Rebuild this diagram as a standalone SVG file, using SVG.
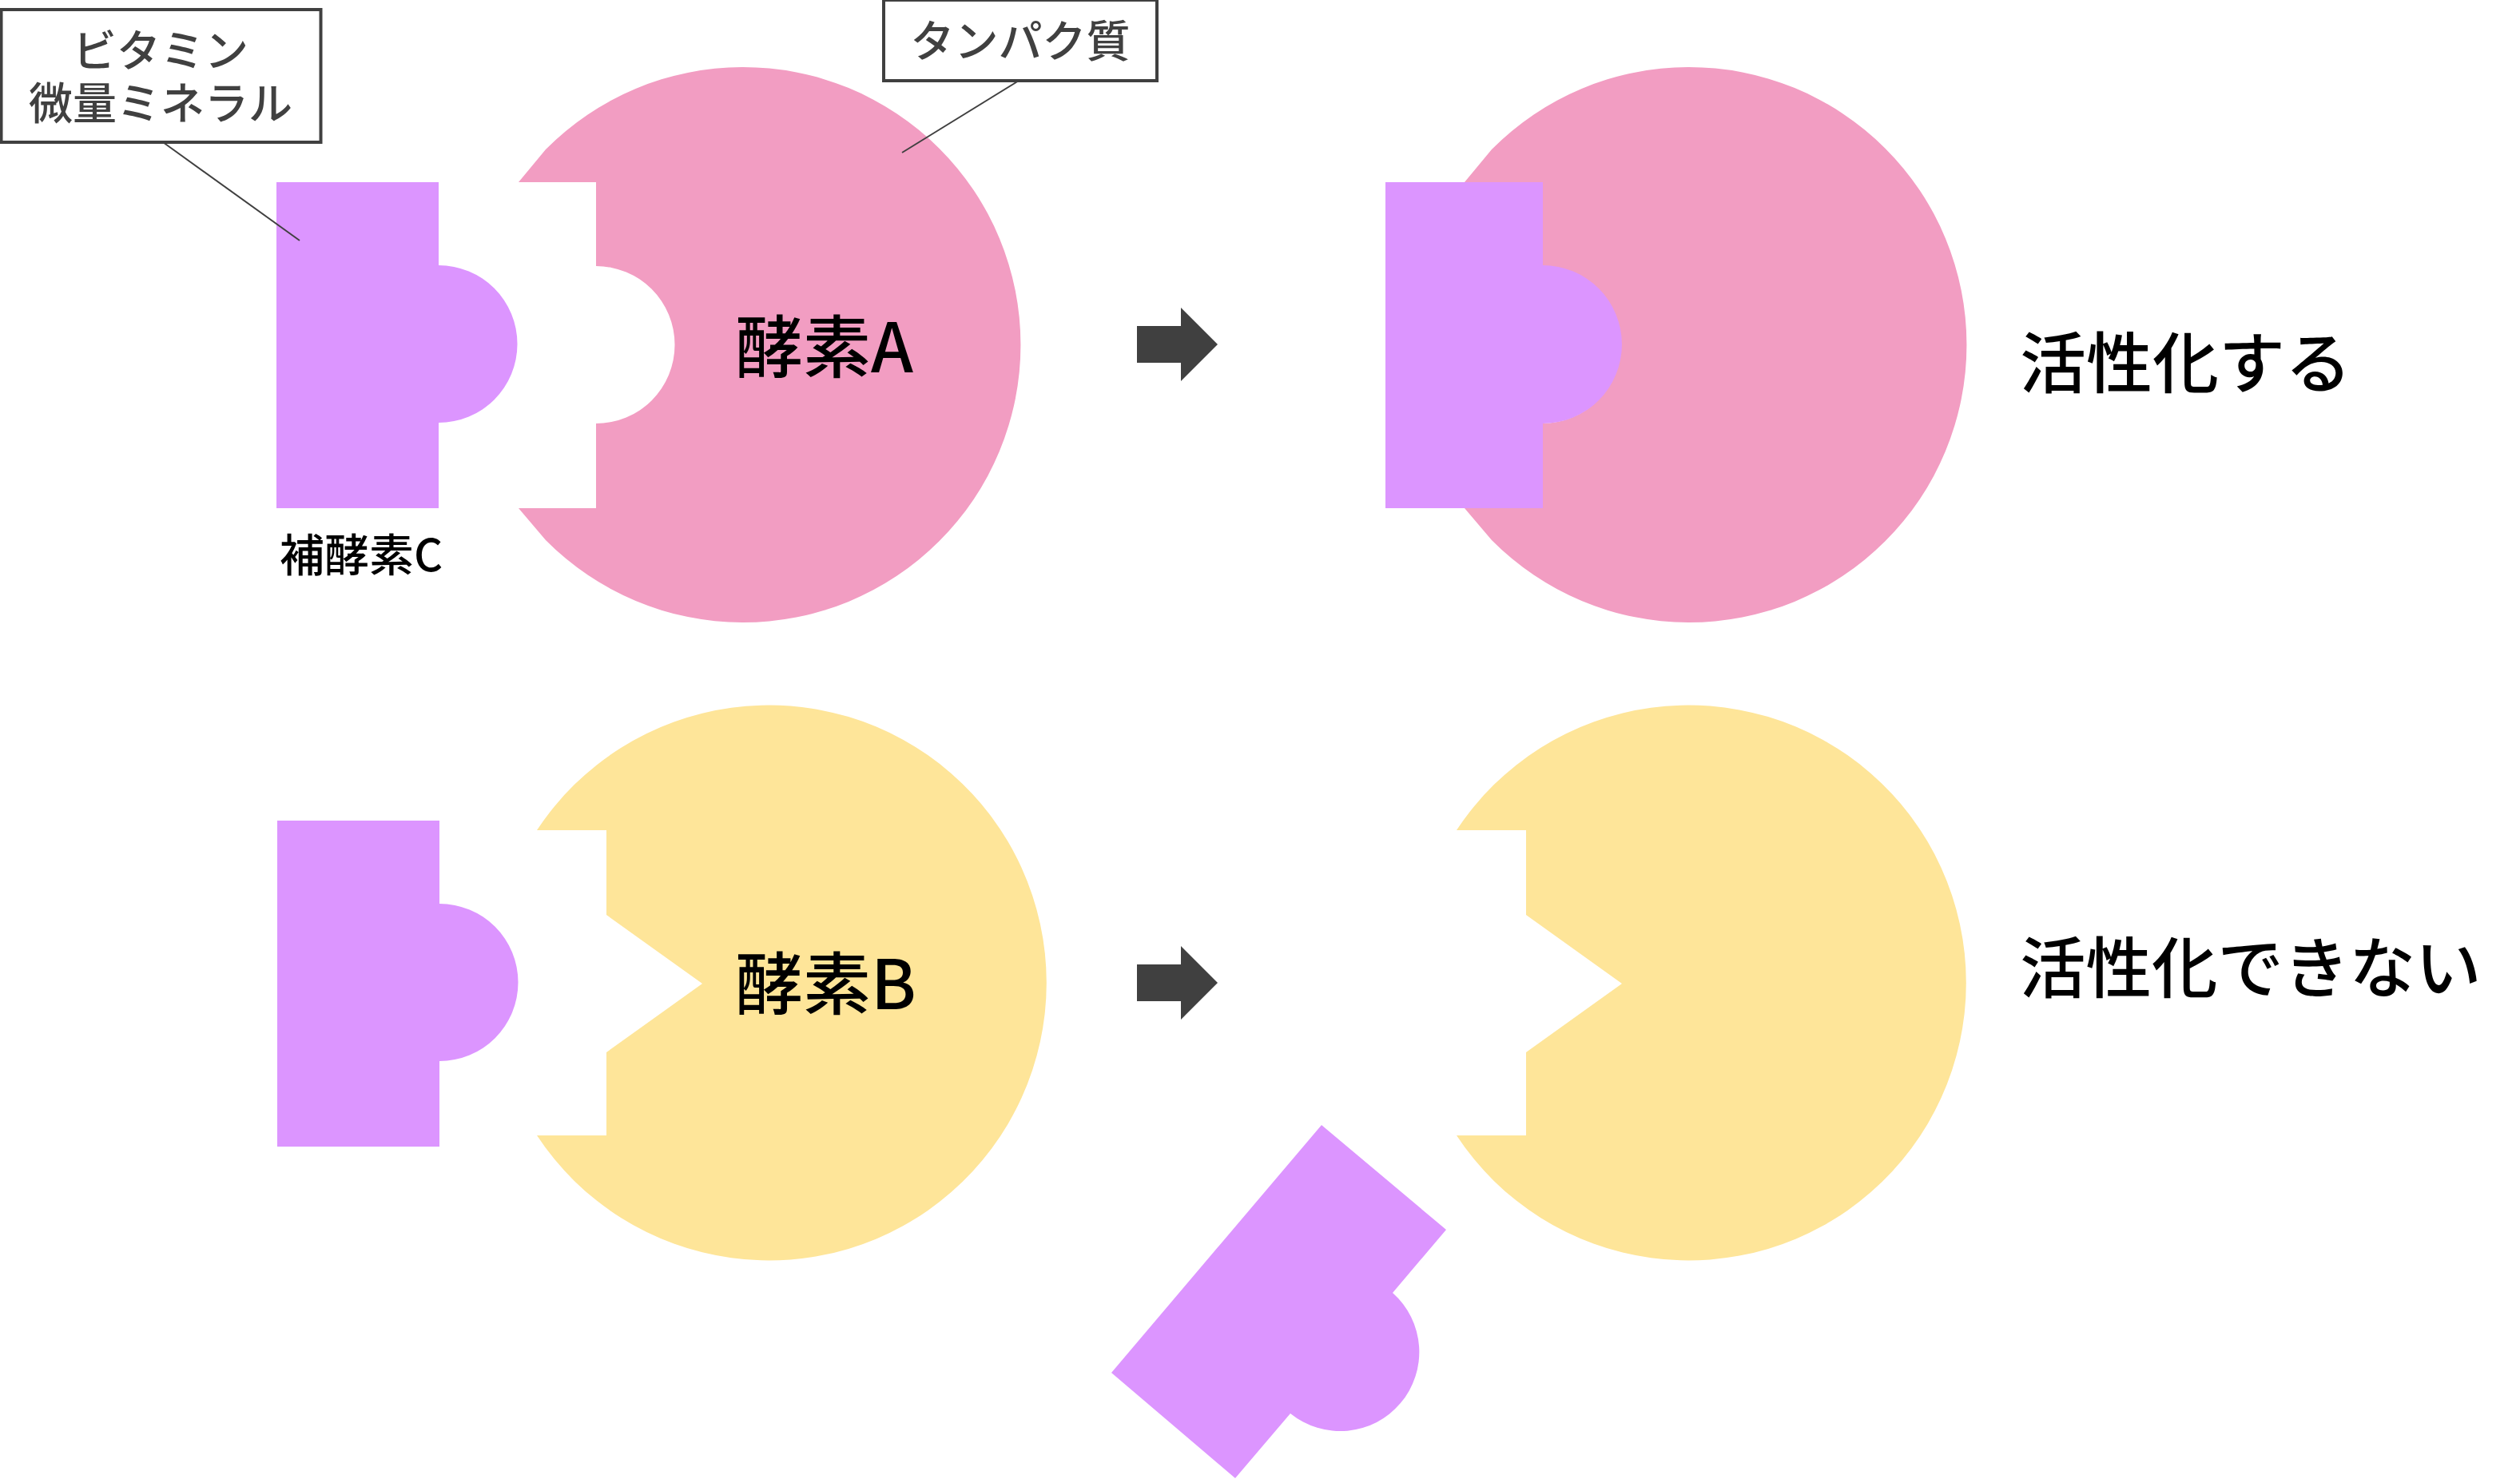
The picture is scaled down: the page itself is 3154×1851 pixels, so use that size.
<svg xmlns="http://www.w3.org/2000/svg" width="3154" height="1851" viewBox="0 0 3154 1851">
<defs>
<style>
text{font-family:"Noto Sans CJK JP","Noto Sans",sans-serif;font-weight:500}
.pink{fill:#f29dc2}
.yellow{fill:#fee599}
.purple{fill:#dc95ff}
.arrow{fill:#404040}
.box{fill:#fff;stroke:#404040;stroke-width:4}
.lead{fill:none;stroke:#404040;stroke-width:2}
.lab{font-size:55px;fill:#404040;text-anchor:middle}
.big{font-size:85px;fill:#000}
.act{font-size:83px;fill:#000}
.act2{font-size:82.500px;fill:#000}
.sm{font-size:56px;fill:#000}
</style>
<path id="ea" d="M649 228L683 187A347.500 347.500 0 1 1 683 676L649 636H746V530A98.500 98.500 0 0 0 746 333V228Z"/>
<path id="eb" d="M672 1039A347.500 347.500 0 1 1 672 1421H759V1317L879 1231L759 1145V1039Z"/>
<path id="co" d="M346 228H549V332A98.500 98.500 0 0 1 549 529V636H346Z"/>
<path id="ar" d="M1423 408H1478V385L1524 431L1478 477V454H1423Z"/>
</defs>
<rect width="3154" height="1851" fill="#fff"/>
<g id="enzymeA"><use href="#ea" class="pink"/><text class="big" x="920" y="466">酵素A</text></g>
<g id="cofactorC"><use href="#co" class="purple"/><text class="sm" x="350" y="715">補酵素C</text></g>
<g id="enzymeA2"><use href="#ea" class="pink" x="1184"/></g>
<g id="cofactorC2"><path class="purple" d="M1734 228H1931V332A99 99 0 0 1 1931 530V636H1734Z"/></g>
<g id="enzymeB"><use href="#eb" class="yellow"/><text class="big" x="920" y="1263">酵素B</text></g>
<g id="cofactorC3"><use href="#co" class="purple" x="1" y="799"/></g>
<g id="enzymeB2"><use href="#eb" class="yellow" x="1151"/></g>
<g id="cofactorC4"><path class="purple" d="M1654 1408L1810 1539L1743 1618A99 99 0 0 1 1615 1769L1546 1850L1391 1718Z"/></g>
<g id="resultA"><text class="act" x="2528" y="485">活性化する</text></g>
<g id="resultB"><text class="act2" x="2528" y="1242">活性化できない</text></g>
<g id="connectors">
<use href="#ar" class="arrow"/>
<use href="#ar" class="arrow" y="799"/>
<path class="lead" d="M204 178L375 301"/>
<path class="lead" d="M1275 101L1129 191"/>
</g>
<g id="labelVitamin"><rect class="box" x="1.500" y="12" width="400" height="166"/><text class="lab" x="201" y="83">ビタミン</text><text class="lab" x="201" y="149">微量ミネラル</text></g>
<g id="labelProtein"><rect class="box" x="1106" y="0" width="342" height="101"/><text class="lab" x="1277" y="71">タンパク質</text></g>
</svg>
